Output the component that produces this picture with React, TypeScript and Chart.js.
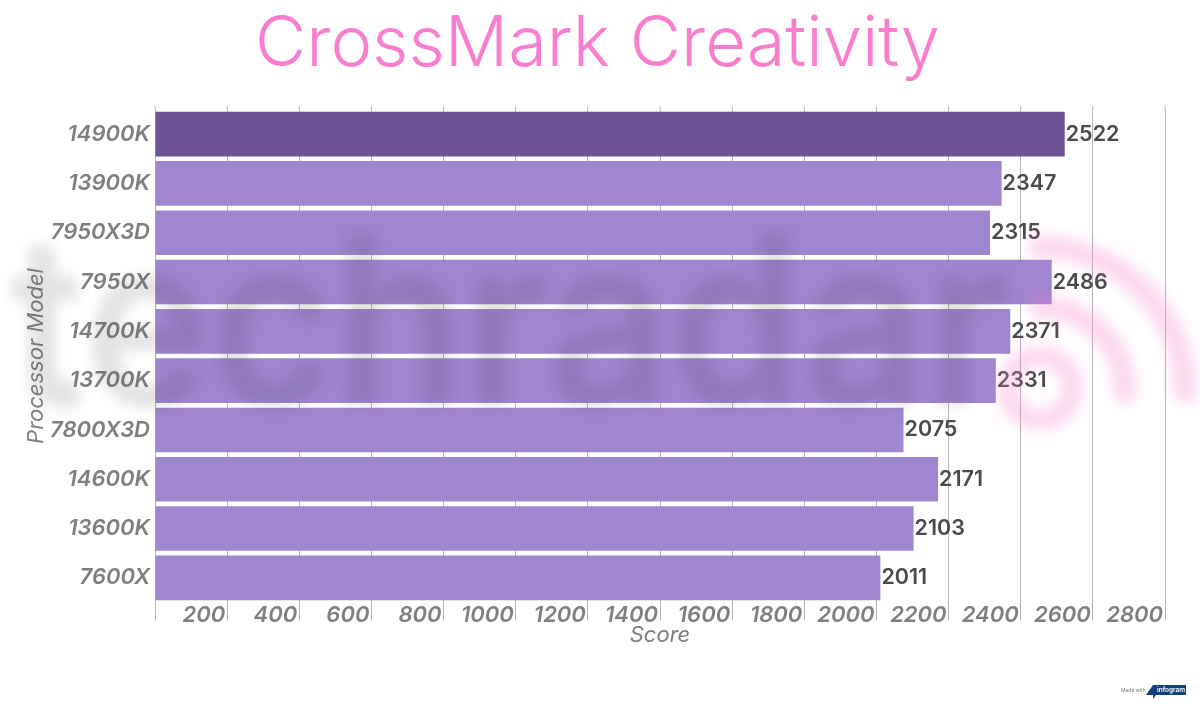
import React, { useEffect, useRef } from "react";
import { Chart, registerables } from "chart.js";

Chart.register(...registerables);

const categories = ["14900K", "13900K", "7950X3D", "7950X", "14700K", "13700K", "7800X3D", "14600K", "13600K", "7600X"];
const scores = [2522, 2347, 2315, 2486, 2371, 2331, 2075, 2171, 2103, 2011];
const barColors = ["#6c5396", "#a085cf", "#a085cf", "#a085cf", "#a085cf", "#a085cf", "#a085cf", "#a085cf", "#a085cf", "#a085cf"];
const titleText = "CrossMark Creativity";
const xTitle = "Score";
const yTitle = "Processor Model";
const FONT = "Inter, 'Noto Sans', sans-serif";

const overlays = {
  id: "overlays",
  afterDatasetsDraw(chart: any) {
    const { ctx, scales } = chart;
    const x = scales.x;
    ctx.save();
    ctx.strokeStyle = "#b5b5b5";
    ctx.lineWidth = 1;
    x.ticks.forEach((_: any, i: number) => {
      const px = x.getPixelForTick(i);
      ctx.beginPath();
      ctx.moveTo(px, 106);
      ctx.lineTo(px, chart.chartArea.top);
      ctx.stroke();
    });
    const meta = chart.getDatasetMeta(0);
    ctx.font = `600 21.5px ${FONT}`;
    ctx.fillStyle = "#4a4a4a";
    ctx.textAlign = "left";
    ctx.textBaseline = "middle";
    meta.data.forEach((bar: any, i: number) => {
      ctx.fillText(String(scores[i]), bar.x + 1, bar.y);
    });
    ctx.restore();
  },
  afterDraw(chart: any) {
    const { ctx } = chart;
    ctx.save();
    ctx.filter = "blur(7px)";
    ctx.fillStyle = "rgba(60,60,60,0.14)";
    ctx.font = `600 235px ${FONT}`;
    ctx.textAlign = "left";
    ctx.textBaseline = "alphabetic";
    ctx.fillText("techradar", 10, 405, 1000);
    ctx.strokeStyle = "rgba(249,127,206,0.32)";
    ctx.lineCap = "round";
    ctx.lineWidth = 20;
    ctx.beginPath();
    ctx.arc(1040, 388, 32, 0, Math.PI * 2);
    ctx.stroke();
    ctx.lineWidth = 22;
    ctx.beginPath();
    ctx.arc(1040, 392, 85, -Math.PI / 2, 0);
    ctx.stroke();
    ctx.beginPath();
    ctx.arc(1040, 392, 145, -Math.PI / 2, 0);
    ctx.stroke();
    ctx.restore();

    ctx.save();
    ctx.fillStyle = "#777";
    ctx.font = `5px ${FONT}`;
    ctx.textBaseline = "middle";
    ctx.fillText("Made with", 1121, 690);
    ctx.fillStyle = "#123f7a";
    ctx.beginPath();
    ctx.moveTo(1153, 685);
    ctx.lineTo(1186, 685);
    ctx.lineTo(1186, 695);
    ctx.lineTo(1156, 695);
    ctx.lineTo(1153, 699);
    ctx.lineTo(1153, 695);
    ctx.lineTo(1146, 695);
    ctx.closePath();
    ctx.fill();
    ctx.fillStyle = "#fff";
    ctx.font = `600 6.5px ${FONT}`;
    ctx.fillText("infogram", 1157, 690.5);
    ctx.restore();
  },
};

export default function App() {
  const ref = useRef<HTMLCanvasElement | null>(null);
  useEffect(() => {
    document.body.style.margin = "0";
    const chart = new Chart(ref.current!, {
      type: "bar",
      data: {
        labels: categories,
        datasets: [{
          data: scores,
          backgroundColor: barColors,
          categoryPercentage: 1,
          barPercentage: 0.905,
        }],
      },
      plugins: [overlays],
      options: {
        indexAxis: "y",
        responsive: false,
        animation: false,
        layout: { padding: { left: 30, right: 35, top: 0, bottom: 0 } },
        plugins: {
          legend: { display: false },
          tooltip: { enabled: false },
          title: {
            display: true,
            text: titleText,
            color: "#f97fce",
            font: { family: FONT, size: 70.4, weight: "300" },
            padding: { top: 3, bottom: 22 },
          },
        },
        scales: {
          x: {
            type: "linear",
            min: 0,
            max: 2800,
            afterFit: (s: any) => { s.height = 704 - 602.5; },
            grid: { color: "#b5b5b5", lineWidth: 1, tickLength: 18, tickColor: "#b5b5b5" },
            border: { display: false },
            ticks: {
              stepSize: 200,
              maxRotation: 0,
              autoSkip: false,
              align: "end",
              labelOffset: -2,
              padding: -18,
              color: "#7f7f7f",
              font: { family: FONT, size: 22, weight: "600", style: "italic" },
              callback: (v: any) => (v === 0 ? "" : String(v)),
            },
            title: {
              display: true,
              text: xTitle,
              color: "#7f7f7f",
              font: { family: FONT, size: 22, style: "italic", weight: "400" },
              padding: { top: 0, bottom: 55 },
            },
          },
          y: {
            type: "category",
            afterFit: (s: any) => { s.width = 125; },
            grid: { display: false, tickLength: 0 },
            border: { color: "#b5b5b5" },
            ticks: {
              color: "#7f7f7f",
              padding: 5,
              font: { family: FONT, size: 22, weight: "600", style: "italic" },
            },
            title: {
              display: true,
              text: yTitle,
              color: "#7f7f7f",
              font: { family: FONT, size: 22, style: "italic", weight: "400" },
              padding: { top: -7, bottom: 0 },
            },
          },
        },
      },
    } as any);
    return () => chart.destroy();
  }, []);
  return <canvas ref={ref} width={1200} height={704} style={{ display: "block" }} />;
}
